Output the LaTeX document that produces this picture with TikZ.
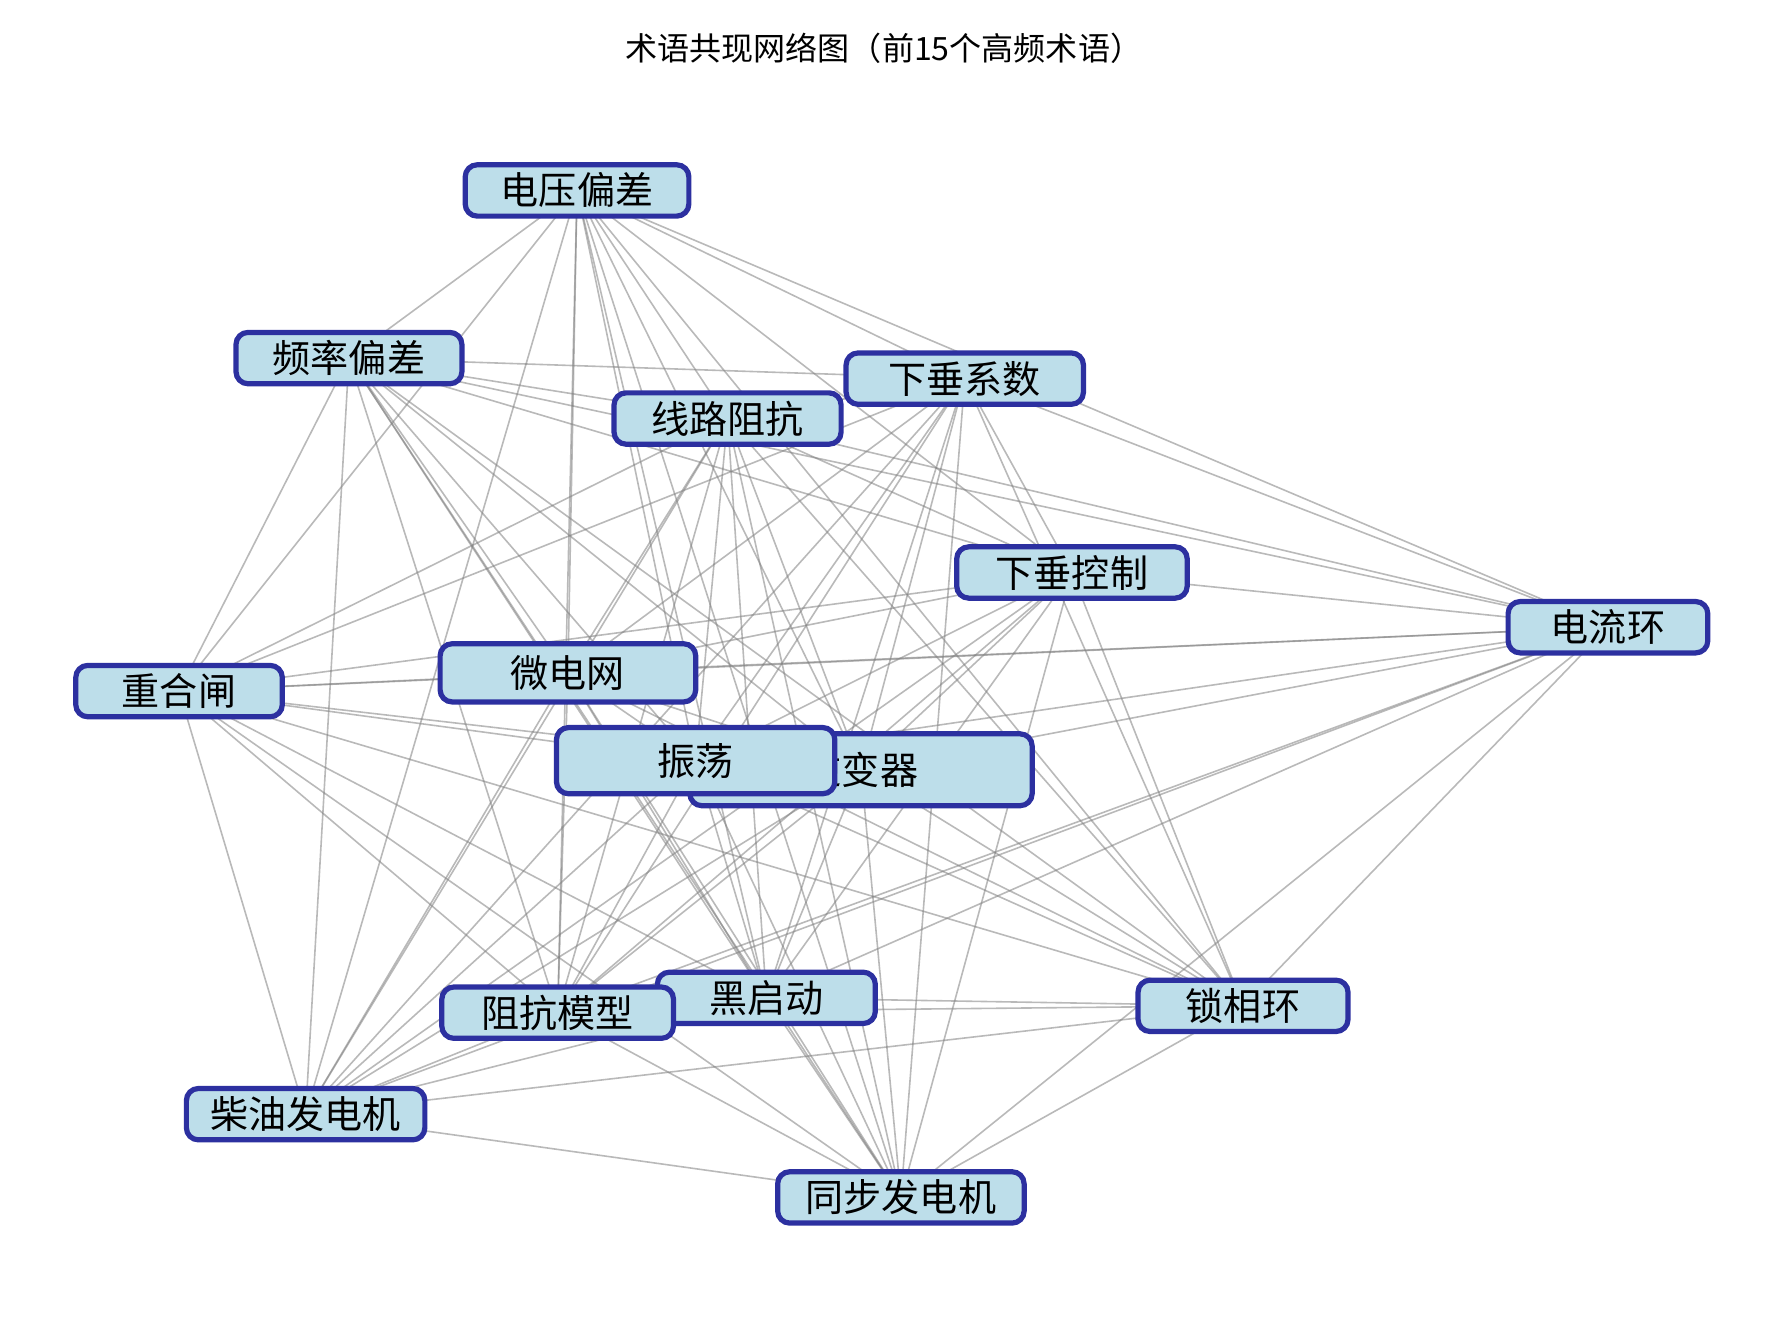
\documentclass[tikz,border=0pt]{standalone}
\usepackage{fontspec}
\setmainfont{Noto Sans CJK SC}
\usetikzlibrary{backgrounds}
\definecolor{termfill}{RGB}{189,222,234}
\definecolor{termline}{RGB}{44,48,160}
\tikzset{
  term/.style={draw=termline, fill=termfill, line width=1.3pt, rounded corners=3pt,
    inner sep=0pt, minimum height=0.45cm, font=\fontsize{9.5}{10}\selectfont},
  cooc/.style={draw=gray, opacity=0.55, line width=0.4pt}
}
\begin{document}
\begin{tikzpicture}[x=0.01cm,y=-0.01cm]

    \useasboundingbox (0,0) rectangle (1560,1163);
    \node [font=\fontsize{8}{9}\selectfont] (title) at (775,42) {术语共现网络图（前15个高频术语）};

    % terms
    \node [term, minimum width=1.96cm] (vdev) at (506,167) {电压偏差};
    \node [term, minimum width=1.98cm] (fdev) at (306,314) {频率偏差};
    \node [term, minimum width=2.08cm] (dcoef) at (846,332) {下垂系数};
    \node [term, minimum width=1.99cm] (limp) at (638,367) {线路阻抗};
    \node [term, minimum width=2.02cm] (dctrl) at (940,502) {下垂控制};
    \node [term, minimum width=1.75cm] (iloop) at (1410,550) {电流环};
    \node [term, minimum width=1.81cm] (recl) at (157,606) {重合闸};
    \node [term, minimum width=2.24cm, minimum height=0.51cm] (mgrid) at (498,590) {微电网};
    \node [term, minimum width=3.00cm, minimum height=0.63cm] (inv) at (755,675) {逆变器};
    \node [term, minimum width=2.44cm, minimum height=0.58cm] (osc) at (610,667) {振荡};
    \node [term, minimum width=1.91cm] (bstart) at (672,875) {黑启动};
    \node [term, minimum width=2.03cm] (imod) at (489,888) {阻抗模型};
    \node [term, minimum width=1.84cm] (pll) at (1090,882) {锁相环};
    \node [term, minimum width=2.09cm] (diesel) at (268,977) {柴油发电机};
    \node [term, minimum width=2.16cm] (sgen) at (790,1050) {同步发电机};

    % co-occurrence links
    \begin{scope}[on background layer]
      \foreach \a [count=\i] in {vdev,fdev,dcoef,limp,dctrl,iloop,recl,mgrid,inv,osc,bstart,imod,pll,diesel,sgen}{
        \foreach \b [count=\j] in {vdev,fdev,dcoef,limp,dctrl,iloop,recl,mgrid,inv,osc,bstart,imod,pll,diesel,sgen}{
          \ifnum\j>\i\relax \draw [cooc] (\a.center) -- (\b.center);\fi
        }
      }
    \end{scope}

\end{tikzpicture}
\end{document}
